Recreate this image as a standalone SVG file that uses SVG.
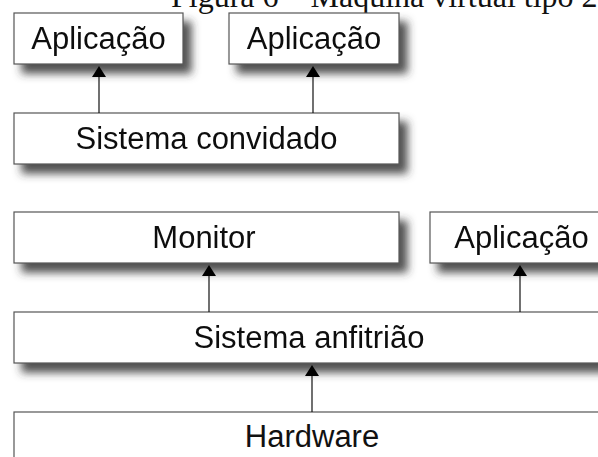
<svg xmlns="http://www.w3.org/2000/svg" width="598" height="457" viewBox="0 0 598 457">
  <style>
    .box { fill: #ffffff; stroke: #555555; stroke-width: 1.2; }
    .lbl { font-family: "Liberation Sans", Arial, sans-serif; font-size: 31px; fill: #111111; text-anchor: middle; }
    .title { font-family: "Liberation Serif", "Times New Roman", serif; font-size: 32px; fill: #111111; }
    .link { stroke: #111111; stroke-width: 1.2; fill: none; }
    .head { fill: #000000; }
  </style>
  <defs>
    <filter id="shadow" x="-10%" y="-30%" width="130%" height="180%">
      <feGaussianBlur in="SourceAlpha" stdDeviation="4.5" result="b"/>
      <feOffset in="b" dx="8" dy="9" result="o"/>
      <feFlood flood-color="#333333" flood-opacity="0.85"/>
      <feComposite in2="o" operator="in" result="s"/>
      <feMerge>
        <feMergeNode in="s"/>
        <feMergeNode in="SourceGraphic"/>
      </feMerge>
    </filter>
  </defs>

  <text class="title" x="171" y="7">Figura 6 – Máquina virtual tipo 2</text>

  <g id="app-guest-1" filter="url(#shadow)">
    <rect class="box" x="14" y="13" width="169" height="51"/>
    <text class="lbl" x="98.5" y="49">Aplicação</text>
  </g>
  <g id="app-guest-2" filter="url(#shadow)">
    <rect class="box" x="229" y="13" width="170" height="51"/>
    <text class="lbl" x="314" y="49">Aplicação</text>
  </g>
  <g id="guest-os" filter="url(#shadow)">
    <rect class="box" x="14" y="113" width="385" height="51"/>
    <text class="lbl" x="206.5" y="148.5">Sistema convidado</text>
  </g>
  <g id="monitor" filter="url(#shadow)">
    <rect class="box" x="14" y="212" width="385" height="51"/>
    <text class="lbl" x="204" y="248">Monitor</text>
  </g>
  <g id="app-host" filter="url(#shadow)">
    <rect class="box" x="430" y="212" width="185" height="51"/>
    <text class="lbl" x="521.5" y="248">Aplicação</text>
  </g>
  <g id="host-os" filter="url(#shadow)">
    <rect class="box" x="14" y="312" width="600" height="51"/>
    <text class="lbl" x="309" y="348">Sistema anfitrião</text>
  </g>
  <g id="hardware">
    <rect class="box" x="14" y="412" width="600" height="60"/>
    <text class="lbl" x="312" y="447">Hardware</text>
  </g>

  <!-- connectors: vertical lines with filled arrowheads pointing up -->
  <g id="connectors">
    <line class="link" x1="99" y1="113" x2="99" y2="72"/>
    <path class="head" d="M92,77 L99,66 L106,77 Z"/>
    <line class="link" x1="313" y1="113" x2="313" y2="72"/>
    <path class="head" d="M306,77 L313,66 L320,77 Z"/>
    <line class="link" x1="209" y1="312" x2="209" y2="271"/>
    <path class="head" d="M202,276 L209,265 L216,276 Z"/>
    <line class="link" x1="520" y1="312" x2="520" y2="271"/>
    <path class="head" d="M513,276 L520,265 L527,276 Z"/>
    <line class="link" x1="312" y1="412" x2="312" y2="371"/>
    <path class="head" d="M305,376 L312,365 L319,376 Z"/>
  </g>
</svg>
